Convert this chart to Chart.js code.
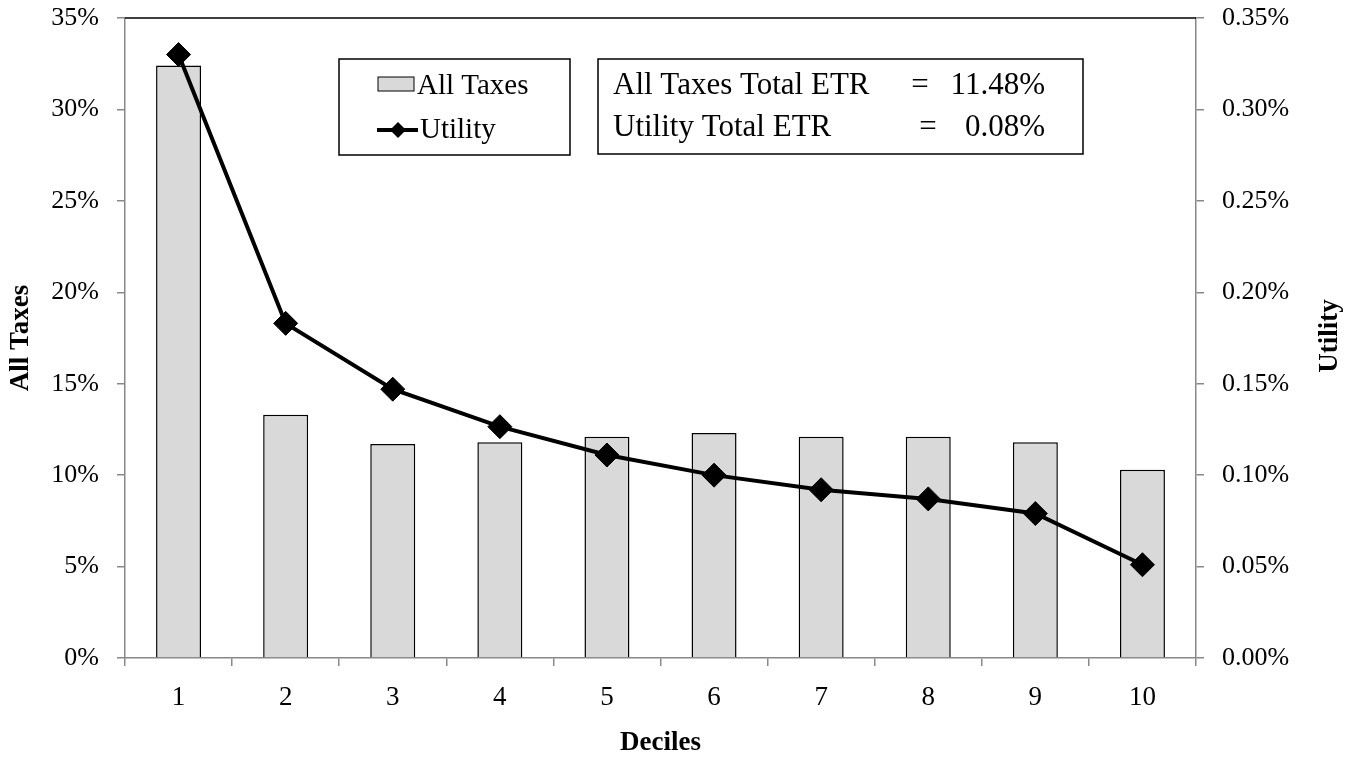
<!DOCTYPE html>
<html>
<head>
<meta charset="utf-8">
<script src="https://cdn.jsdelivr.net/npm/chart.js@4/dist/chart.umd.min.js"></script>
<style>
  html, body { margin: 0; padding: 0; background: #fff; }
  #wrap { width: 1357px; height: 761px; }
</style>
</head>
<body>
<div id="wrap"><canvas id="chart" width="1357" height="761"></canvas></div>
<script>
// data
const deciles = ["1", "2", "3", "4", "5", "6", "7", "8", "9", "10"];
const allTaxes = [32.4, 13.3, 11.7, 11.8, 12.1, 12.3, 12.1, 12.1, 11.8, 10.3];
const utility = [0.330, 0.183, 0.147, 0.1265, 0.111, 0.100, 0.092, 0.087, 0.079, 0.051];
const etrLines = [
  ["All Taxes Total ETR", "=", "11.48%"],
  ["Utility Total ETR", "=", "0.08%"],
];

const serif = "'Liberation Serif', 'Times New Roman', serif";

// legend boxes, right axis title and plot top border
const boxes = {
  id: "boxes",
  afterDraw(chart) {
    const ctx = chart.ctx;
    const area = chart.chartArea;
    ctx.save();
    // black top border of the plot area
    ctx.strokeStyle = "#000";
    ctx.lineWidth = 1.5;
    ctx.beginPath();
    ctx.moveTo(area.left, area.top);
    ctx.lineTo(area.right, area.top);
    ctx.stroke();

    // right axis title, reading upward
    ctx.save();
    ctx.translate(1330, 336);
    ctx.rotate(-Math.PI / 2);
    ctx.fillStyle = "#000";
    ctx.font = "bold 27px " + serif;
    ctx.textAlign = "center";
    ctx.textBaseline = "middle";
    ctx.fillText("Utility", 0, 0);
    ctx.restore();

    // series legend
    ctx.fillStyle = "#fff";
    ctx.fillRect(339, 59, 231, 96);
    ctx.strokeRect(339, 59, 231, 96);
    const bar = chart.data.datasets[1];
    const line = chart.data.datasets[0];
    ctx.fillStyle = bar.backgroundColor;
    ctx.fillRect(378, 77, 36, 14);
    ctx.lineWidth = 1;
    ctx.strokeRect(378, 77, 36, 14);
    ctx.strokeStyle = line.borderColor;
    ctx.lineWidth = 4;
    ctx.beginPath();
    ctx.moveTo(377, 130);
    ctx.lineTo(418, 130);
    ctx.stroke();
    ctx.fillStyle = "#000";
    ctx.beginPath();
    ctx.moveTo(398, 122);
    ctx.lineTo(406, 130);
    ctx.lineTo(398, 138);
    ctx.lineTo(390, 130);
    ctx.closePath();
    ctx.fill();
    ctx.font = "29px " + serif;
    ctx.textBaseline = "middle";
    ctx.textAlign = "left";
    ctx.fillText(bar.label, 417, 86);
    ctx.fillText(line.label, 420, 130);

    // ETR box
    ctx.strokeStyle = "#000";
    ctx.lineWidth = 1.5;
    ctx.fillStyle = "#fff";
    ctx.fillRect(598, 59, 485, 95);
    ctx.strokeRect(598, 59, 485, 95);
    ctx.fillStyle = "#000";
    ctx.font = "31px " + serif;
    const ys = [86, 128];
    const eqX = [920, 928];
    etrLines.forEach((row, i) => {
      ctx.textAlign = "left";
      ctx.fillText(row[0], 613, ys[i]);
      ctx.textAlign = "center";
      ctx.fillText(row[1], eqX[i], ys[i]);
      ctx.textAlign = "right";
      ctx.fillText(row[2], 1045, ys[i]);
    });
    ctx.restore();
  },
};

new Chart(document.getElementById("chart").getContext("2d"), {
  data: {
    labels: deciles,
    datasets: [
      {
        type: "line",
        label: "Utility",
        data: utility,
        yAxisID: "y1",
        borderColor: "#000",
        borderWidth: 4,
        pointStyle: "rectRot",
        pointRadius: 12,
        pointBackgroundColor: "#000",
        pointBorderColor: "#000",
        pointBorderWidth: 1,
        tension: 0,
        order: 0,
      },
      {
        type: "bar",
        label: "All Taxes",
        data: allTaxes,
        yAxisID: "y",
        backgroundColor: "#d9d9d9",
        borderColor: "#000",
        borderWidth: 1.5,
        barPercentage: 0.42,
        categoryPercentage: 1,
        order: 1,
      },
    ],
  },
  options: {
    responsive: false,
    animation: false,
    layout: { padding: { top: 18, left: 0, right: 0, bottom: 0 } },
    plugins: {
      legend: { display: false },
      tooltip: { enabled: false },
      title: { display: false },
    },
    scales: {
      x: {
        offset: true,
        grid: {
          offset: true,
          drawOnChartArea: false,
          color: "#888",
          tickLength: 8,
          lineWidth: 1.5,
        },
        border: { color: "#888", width: 1.5 },
        ticks: {
          color: "#000",
          font: { family: serif, size: 27 },
          padding: 16,
        },
        title: {
          display: true,
          text: "Deciles",
          color: "#000",
          font: { family: serif, size: 27, weight: "bold" },
          padding: { top: 0, bottom: 2 },
        },
        afterFit(scale) {
          scale.height = 103;
          scale.paddingLeft = 0;
          scale.paddingRight = 0;
        },
      },
      y: {
        position: "left",
        min: 0,
        max: 35,
        grid: {
          drawOnChartArea: false,
          color: "#888",
          tickLength: 8,
          lineWidth: 1.5,
        },
        border: { color: "#888", width: 1.5 },
        ticks: {
          stepSize: 5,
          color: "#000",
          font: { family: serif, size: 26 },
          padding: 18,
          callback: (v) => v + "%",
        },
        title: {
          display: true,
          text: "All Taxes",
          color: "#000",
          font: { family: serif, size: 27, weight: "bold" },
          padding: { top: 5, bottom: 0 },
        },
        afterFit(scale) {
          scale.width = 125;
          scale.paddingTop = 0;
          scale.paddingBottom = 0;
        },
      },
      y1: {
        position: "right",
        min: 0,
        max: 0.35,
        grid: {
          drawOnChartArea: false,
          color: "#888",
          tickLength: 8,
          lineWidth: 1.5,
        },
        border: { color: "#888", width: 1.5 },
        ticks: {
          stepSize: 0.05,
          color: "#000",
          font: { family: serif, size: 26 },
          padding: 18,
          callback: (v) => v.toFixed(2) + "%",
        },
        title: { display: false },
        afterFit(scale) {
          scale.width = 161;
          scale.paddingTop = 0;
          scale.paddingBottom = 0;
        },
      },
    },
  },
  plugins: [boxes],
});
</script>
</body>
</html>
